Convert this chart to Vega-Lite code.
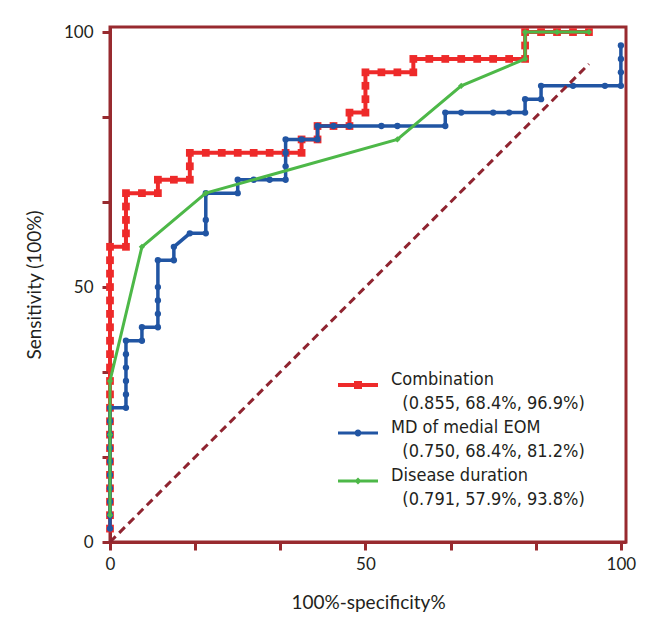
{
  "$schema": "https://vega.github.io/schema/vega-lite/v6.json",
  "width": 516,
  "height": 515,
  "autosize": {"type": "none"},
  "padding": {"left": 110, "top": 27, "right": 19, "bottom": 81},
  "background": "white",
  "config": {
    "font": "Lato",
    "view": {"stroke": "#982A2F", "strokeWidth": 3},
    "axis": {
      "domainColor": "#982A2F", "domainWidth": 3, "tickColor": "#982A2F", "tickWidth": 3, "tickSize": 8,
      "labelFontSize": 17, "titleFontSize": 19, "titleFontWeight": "normal", "labelColor": "#231f20", "titleColor": "#231f20",
      "grid": false, "labelFlush": false, "labelOverlap": false
    }
  },
  "datasets": {
    "roc": [
      {"s":"Combination","i":1,"x":0,"y":2.63},{"s":"Combination","i":2,"x":0,"y":5.26},{"s":"Combination","i":3,"x":0,"y":7.89},{"s":"Combination","i":4,"x":0,"y":10.53},{"s":"Combination","i":5,"x":0,"y":13.16},{"s":"Combination","i":6,"x":0,"y":15.79},{"s":"Combination","i":7,"x":0,"y":18.42},{"s":"Combination","i":8,"x":0,"y":21.05},{"s":"Combination","i":9,"x":0,"y":23.68},{"s":"Combination","i":10,"x":0,"y":26.32},{"s":"Combination","i":11,"x":0,"y":28.95},{"s":"Combination","i":12,"x":0,"y":31.58},{"s":"Combination","i":13,"x":0,"y":34.21},{"s":"Combination","i":14,"x":0,"y":36.84},{"s":"Combination","i":15,"x":0,"y":39.47},{"s":"Combination","i":16,"x":0,"y":42.11},{"s":"Combination","i":17,"x":0,"y":44.74},{"s":"Combination","i":18,"x":0,"y":47.37},{"s":"Combination","i":19,"x":0,"y":50},{"s":"Combination","i":20,"x":0,"y":52.63},{"s":"Combination","i":21,"x":0,"y":55.26},{"s":"Combination","i":22,"x":0,"y":57.89},
      {"s":"Combination","i":23,"x":3.125,"y":57.89},{"s":"Combination","i":24,"x":3.125,"y":60.53},{"s":"Combination","i":25,"x":3.125,"y":63.16},{"s":"Combination","i":26,"x":3.125,"y":65.79},{"s":"Combination","i":27,"x":3.125,"y":68.42},
      {"s":"Combination","i":28,"x":6.25,"y":68.42},{"s":"Combination","i":29,"x":9.375,"y":68.42},{"s":"Combination","i":30,"x":9.375,"y":71.05},{"s":"Combination","i":31,"x":12.5,"y":71.05},{"s":"Combination","i":32,"x":15.625,"y":71.05},{"s":"Combination","i":33,"x":15.625,"y":73.68},{"s":"Combination","i":34,"x":15.625,"y":76.32},
      {"s":"Combination","i":35,"x":18.75,"y":76.32},{"s":"Combination","i":36,"x":21.875,"y":76.32},{"s":"Combination","i":37,"x":25,"y":76.32},{"s":"Combination","i":38,"x":28.125,"y":76.32},{"s":"Combination","i":39,"x":31.25,"y":76.32},{"s":"Combination","i":40,"x":34.375,"y":76.32},{"s":"Combination","i":41,"x":37.5,"y":76.32},
      {"s":"Combination","i":42,"x":37.5,"y":78.95},{"s":"Combination","i":43,"x":40.625,"y":78.95},{"s":"Combination","i":44,"x":40.625,"y":81.58},{"s":"Combination","i":45,"x":43.75,"y":81.58},{"s":"Combination","i":46,"x":46.875,"y":81.58},{"s":"Combination","i":47,"x":46.875,"y":84.21},{"s":"Combination","i":48,"x":50,"y":84.21},{"s":"Combination","i":49,"x":50,"y":86.84},{"s":"Combination","i":50,"x":50,"y":89.47},{"s":"Combination","i":51,"x":50,"y":92.11},
      {"s":"Combination","i":52,"x":53.125,"y":92.11},{"s":"Combination","i":53,"x":56.25,"y":92.11},{"s":"Combination","i":54,"x":59.375,"y":92.11},{"s":"Combination","i":55,"x":59.375,"y":94.74},{"s":"Combination","i":56,"x":62.5,"y":94.74},{"s":"Combination","i":57,"x":65.625,"y":94.74},{"s":"Combination","i":58,"x":68.75,"y":94.74},{"s":"Combination","i":59,"x":71.875,"y":94.74},{"s":"Combination","i":60,"x":75,"y":94.74},{"s":"Combination","i":61,"x":78.125,"y":94.74},{"s":"Combination","i":62,"x":81.25,"y":94.74},{"s":"Combination","i":63,"x":81.25,"y":97.37},{"s":"Combination","i":64,"x":81.25,"y":100},{"s":"Combination","i":65,"x":84.375,"y":100},{"s":"Combination","i":66,"x":87.5,"y":100},{"s":"Combination","i":67,"x":90.625,"y":100},{"s":"Combination","i":68,"x":93.75,"y":100},
      {"s":"MD of medial EOM","i":1,"x":0,"y":2.63},{"s":"MD of medial EOM","i":2,"x":0,"y":5.26},{"s":"MD of medial EOM","i":3,"x":0,"y":7.89},{"s":"MD of medial EOM","i":4,"x":0,"y":10.53},{"s":"MD of medial EOM","i":5,"x":0,"y":13.16},{"s":"MD of medial EOM","i":6,"x":0,"y":15.79},{"s":"MD of medial EOM","i":7,"x":0,"y":18.42},{"s":"MD of medial EOM","i":8,"x":0,"y":21.05},{"s":"MD of medial EOM","i":9,"x":0,"y":23.68},{"s":"MD of medial EOM","i":10,"x":0,"y":26.32},
      {"s":"MD of medial EOM","i":11,"x":3.125,"y":26.32},{"s":"MD of medial EOM","i":12,"x":3.125,"y":28.95},{"s":"MD of medial EOM","i":13,"x":3.125,"y":31.58},{"s":"MD of medial EOM","i":14,"x":3.125,"y":34.21},{"s":"MD of medial EOM","i":15,"x":3.125,"y":36.84},{"s":"MD of medial EOM","i":16,"x":3.125,"y":39.47},{"s":"MD of medial EOM","i":17,"x":6.25,"y":39.47},{"s":"MD of medial EOM","i":18,"x":6.25,"y":42.11},{"s":"MD of medial EOM","i":19,"x":9.375,"y":42.11},{"s":"MD of medial EOM","i":20,"x":9.375,"y":44.74},{"s":"MD of medial EOM","i":21,"x":9.375,"y":47.37},{"s":"MD of medial EOM","i":22,"x":9.375,"y":50},{"s":"MD of medial EOM","i":23,"x":9.375,"y":55.26},{"s":"MD of medial EOM","i":24,"x":12.5,"y":55.26},{"s":"MD of medial EOM","i":25,"x":12.5,"y":57.89},{"s":"MD of medial EOM","i":26,"x":15.625,"y":60.53},{"s":"MD of medial EOM","i":27,"x":18.75,"y":60.53},{"s":"MD of medial EOM","i":28,"x":18.75,"y":63.16},{"s":"MD of medial EOM","i":29,"x":18.75,"y":68.42},
      {"s":"MD of medial EOM","i":30,"x":25,"y":68.42},{"s":"MD of medial EOM","i":31,"x":25,"y":71.05},{"s":"MD of medial EOM","i":32,"x":28.125,"y":71.05},{"s":"MD of medial EOM","i":33,"x":31.25,"y":71.05},{"s":"MD of medial EOM","i":34,"x":34.375,"y":71.05},{"s":"MD of medial EOM","i":35,"x":34.375,"y":73.68},{"s":"MD of medial EOM","i":36,"x":34.375,"y":76.32},{"s":"MD of medial EOM","i":37,"x":34.375,"y":78.95},{"s":"MD of medial EOM","i":38,"x":37.5,"y":78.95},{"s":"MD of medial EOM","i":39,"x":40.625,"y":78.95},{"s":"MD of medial EOM","i":40,"x":40.625,"y":81.58},{"s":"MD of medial EOM","i":41,"x":43.75,"y":81.58},{"s":"MD of medial EOM","i":42,"x":46.875,"y":81.58},{"s":"MD of medial EOM","i":43,"x":53.125,"y":81.58},{"s":"MD of medial EOM","i":44,"x":56.25,"y":81.58},{"s":"MD of medial EOM","i":45,"x":65.625,"y":81.58},
      {"s":"MD of medial EOM","i":46,"x":65.625,"y":84.21},{"s":"MD of medial EOM","i":47,"x":68.75,"y":84.21},{"s":"MD of medial EOM","i":48,"x":75,"y":84.21},{"s":"MD of medial EOM","i":49,"x":78.125,"y":84.21},{"s":"MD of medial EOM","i":50,"x":81.25,"y":84.21},{"s":"MD of medial EOM","i":51,"x":81.25,"y":86.84},{"s":"MD of medial EOM","i":52,"x":84.375,"y":86.84},{"s":"MD of medial EOM","i":53,"x":84.375,"y":89.47},{"s":"MD of medial EOM","i":54,"x":90.625,"y":89.47},{"s":"MD of medial EOM","i":55,"x":96.875,"y":89.47},{"s":"MD of medial EOM","i":56,"x":100,"y":89.47},{"s":"MD of medial EOM","i":57,"x":100,"y":92.11},{"s":"MD of medial EOM","i":58,"x":100,"y":94.74},{"s":"MD of medial EOM","i":59,"x":100,"y":97.37},
      {"s":"Disease duration","i":1,"x":0,"y":5.26},{"s":"Disease duration","i":2,"x":0,"y":21.05},{"s":"Disease duration","i":3,"x":0,"y":31.58},{"s":"Disease duration","i":4,"x":6.25,"y":57.89},{"s":"Disease duration","i":5,"x":18.75,"y":68.42},{"s":"Disease duration","i":6,"x":56.25,"y":78.95},{"s":"Disease duration","i":7,"x":68.75,"y":89.47},{"s":"Disease duration","i":8,"x":81.25,"y":94.74},{"s":"Disease duration","i":9,"x":81.25,"y":100},{"s":"Disease duration","i":10,"x":87.5,"y":100},{"s":"Disease duration","i":11,"x":93.75,"y":100}
    ],
    "diag": [{"i":1,"x":0,"y":0},{"i":2,"x":93.75,"y":93.75}]
  },
  "data": {"name": "roc"},
  "encoding": {
    "x": {"field": "x", "type": "quantitative", "scale": {"domain": [0, 101], "nice": false},
      "axis": {"title": "100%-specificity%", "values": [0, 16.6667, 33.3333, 50, 66.6667, 83.3333, 100],
        "labelExpr": "abs(datum.value - round(datum.value / 50) * 50) < 0.01 ? format(datum.value, 'd') : ''",
        "labelPadding": 6, "titlePadding": 21}},
    "y": {"field": "y", "type": "quantitative", "scale": {"domain": [0, 101], "nice": false},
      "axis": {"title": "Sensitivity (100%)", "values": [0, 16.6667, 33.3333, 50, 66.6667, 83.3333, 100],
        "labelExpr": "abs(datum.value - round(datum.value / 50) * 50) < 0.01 ? format(datum.value, 'd') : ''",
        "labelPadding": 9, "titlePadding": 19}},
    "order": {"field": "i", "type": "quantitative"},
    "color": {"field": "s", "type": "nominal",
      "scale": {"domain": ["Combination", "MD of medial EOM", "Disease duration"], "range": ["#EE2A2A", "#2155A3", "#4DB848"]},
      "legend": {
        "title": null, "orient": "none", "legendX": 228, "legendY": 338, "padding": 0,
        "labelFont": "DejaVu Sans Condensed", "labelFontSize": 18, "labelColor": "#231f20", "labelLimit": 500, "labelOffset": 13, "rowPadding": 0,
        "symbolSize": 1600, "labelBaseline": "alphabetic",
        "labelExpr": "datum.label == 'Combination' ? ['Combination', '\u200b\u2002\u2009(0.855, 68.4%, 96.9%)'] : datum.label == 'MD of medial EOM' ? ['MD of medial EOM', '\u200b\u2002\u2009(0.750, 68.4%, 81.2%)'] : ['Disease duration', '\u200b\u2002\u2009(0.791, 57.9%, 93.8%)']",
        "encode": {
          "symbols": {"update": {
            "shape": {"signal": "datum.value == 'Combination' ? 'M-1,-0.1H1V0.1H-1Z M-0.2,-0.2H0.2V0.2H-0.2Z' : datum.value == 'MD of medial EOM' ? 'M-1,-0.08H1V0.08H-1Z M0.17,0A0.17,0.17 0 1,1 -0.17,0A0.17,0.17 0 1,1 0.17,0Z' : 'M-1,-0.075H1V0.075H-1Z M0,-0.18L0.18,0L0,0.18L-0.18,0Z'"},
            "fill": {"scale": "color", "field": "value"},
            "stroke": {"value": "transparent"},
            "strokeWidth": {"value": 0},
            "opacity": {"value": 1}
          }},
          "labels": {"update": {"lineHeight": {"value": 24}}}
        }
      }}
  },
  "layer": [
    {"transform": [{"filter": "datum.s == 'Combination'"}], "mark": {"type": "line", "strokeWidth": 4}},
    {"transform": [{"filter": "datum.s == 'Combination'"}], "mark": {"type": "point", "shape": "square", "filled": true, "size": 60, "opacity": 1}},
    {"transform": [{"filter": "datum.s == 'MD of medial EOM'"}], "mark": {"type": "line", "strokeWidth": 3.5}},
    {"transform": [{"filter": "datum.s == 'MD of medial EOM'"}], "mark": {"type": "point", "shape": "circle", "filled": true, "size": 40, "opacity": 1}},
    {"transform": [{"filter": "datum.s == 'Disease duration'"}], "mark": {"type": "line", "strokeWidth": 3}},
    {"transform": [{"filter": "datum.s == 'Disease duration'"}], "mark": {"type": "point", "shape": "diamond", "filled": true, "size": 40, "opacity": 1}},
    {"data": {"name": "diag"}, "mark": {"type": "line", "strokeWidth": 3, "strokeDash": [8, 5], "color": "#8F2430"},
      "encoding": {"color": {"value": "#8F2430"}}}
  ]
}
